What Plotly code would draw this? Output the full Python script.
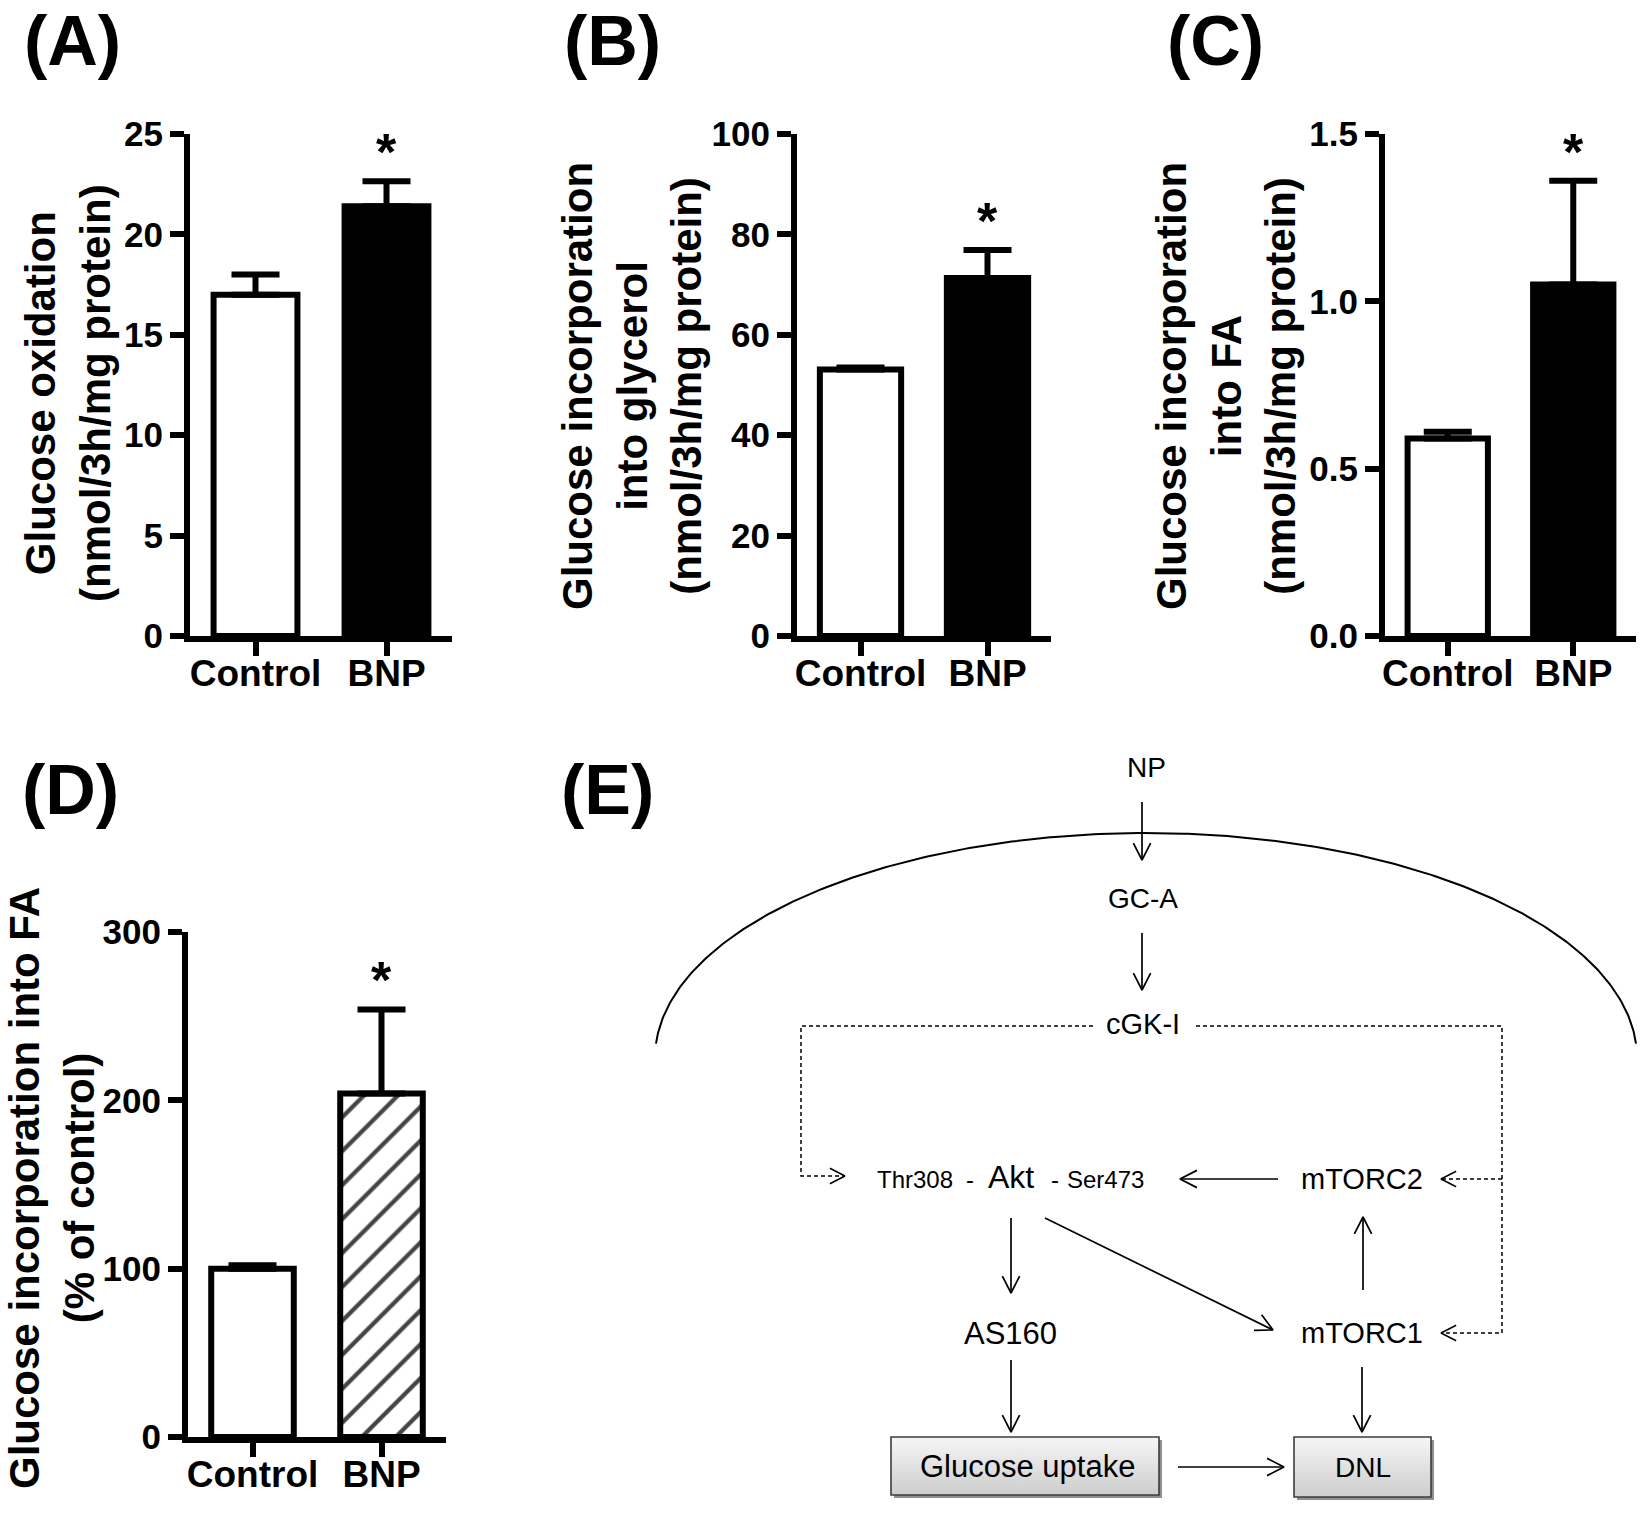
import numpy as np
import plotly.graph_objects as go

W, H = 1650, 1513
ARIAL = "Liberation Sans, Arial, sans-serif"
NARROW = "Liberation Sans Narrow, Arial Narrow, Liberation Sans, Arial, sans-serif"

# ---------------- data ----------------
categories = ["Control", "BNP"]

a_values = [17.0, 21.4]
a_errors = [1.0, 1.25]
a_ticks = [0, 5, 10, 15, 20, 25]

b_values = [53.1, 71.3]
b_errors = [0.4, 5.6]
b_ticks = [0, 20, 40, 60, 80, 100]

c_values = [0.59, 1.05]
c_errors = [0.02, 0.31]
c_ticks = [0.0, 0.5, 1.0, 1.5]

d_values = [100, 204]
d_errors = [2, 50]
d_ticks = [0, 100, 200, 300]

a_title = "Glucose oxidation<br>(nmol/3h/mg protein)"
b_title = "Glucose incorporation<br>into glycerol<br>(nmol/3h/mg protein)"
c_title = "Glucose incorporation<br>into FA<br>(nmol/3h/mg protein)"
d_title = "Glucose incorporation into FA<br>(% of control)"

# ---------------- layout of panels (pixel frame) ----------------
panels = [
    dict(label="(A)", lab_xy=(72, 41), values=a_values, errors=a_errors, ticks=a_ticks,
         fmt="", title=a_title, title_xy=(68, 393),
         xdom=(190, 452), ydom=(134, 636), hatch=False),
    dict(label="(B)", lab_xy=(612, 41), values=b_values, errors=b_errors, ticks=b_ticks,
         fmt="", title=b_title, title_xy=(632, 386),
         xdom=(797, 1051), ydom=(134, 636), hatch=False),
    dict(label="(C)", lab_xy=(1215, 41), values=c_values, errors=c_errors, ticks=c_ticks,
         fmt=".1f", title=c_title, title_xy=(1226, 386),
         xdom=(1385, 1636), ydom=(134, 636), hatch=False),
    dict(label="(D)", lab_xy=(70, 790), values=d_values, errors=d_errors, ticks=d_ticks,
         fmt="", title=d_title, title_xy=(52, 1188),
         xdom=(188, 446), ydom=(932, 1437), hatch=True),
]

fig = go.Figure()
layout = dict(width=W, height=H, margin=dict(l=0, r=0, t=0, b=0, pad=0, autoexpand=False),
              paper_bgcolor="white", plot_bgcolor="rgba(0,0,0,0)", showlegend=False)
annotations = []
shapes = []

for i, p in enumerate(panels, start=1):
    xa = "x" if i == 1 else f"x{i}"
    ya = "y" if i == 1 else f"y{i}"
    marker = dict(color=["white", "black"], line=dict(color="black", width=6))
    if p["hatch"]:
        marker = dict(color=["white", "white"], line=dict(color="black", width=6),
                      pattern=dict(shape=["", "/"], fgcolor="#000000", bgcolor="white",
                                   fgopacity=1, size=24, solidity=0.18))
    fig.add_trace(go.Bar(
        x=[0, 1], y=p["values"], xaxis=xa, yaxis=ya, width=0.64, marker=marker,
        error_y=dict(type="data", symmetric=False, array=p["errors"], arrayminus=[0, 0],
                     color="black", thickness=6, width=24),
        hoverinfo="skip", showlegend=False))
    ymax = p["ticks"][-1]
    layout[f"xaxis{'' if i == 1 else i}"] = dict(
        domain=[p["xdom"][0] / W, p["xdom"][1] / W], range=[-0.5, 1.5], anchor=ya,
        tickvals=[0, 1], ticktext=categories, showline=True, linewidth=6, linecolor="black",
        ticks="outside", ticklen=14, tickwidth=6, tickcolor="black", automargin=False,
        ticklabelstandoff=-14,
        tickfont=dict(family=ARIAL, size=37, color="black", weight="bold"),
        showgrid=False, zeroline=False, fixedrange=True)
    layout[f"yaxis{'' if i == 1 else i}"] = dict(
        domain=[1 - p["ydom"][1] / H, 1 - p["ydom"][0] / H], range=[0, ymax], anchor=xa,
        tickvals=p["ticks"], tickformat=p["fmt"], showline=True, linewidth=6,
        linecolor="black", ticks="outside", ticklen=14, tickwidth=6, tickcolor="black",
        automargin=False,
        tickfont=dict(family=ARIAL, size=35, color="black", weight="bold"),
        showgrid=False, zeroline=False, fixedrange=True)
    # significance star
    annotations.append(dict(x=1, y=p["values"][1] + p["errors"][1], xref=xa, yref=ya,
                            text="*", showarrow=False, yanchor="middle", yshift=29,
                            font=dict(family=ARIAL, size=52, color="black", weight="bold")))
    # y title
    annotations.append(dict(x=p["title_xy"][0] / W, y=1 - p["title_xy"][1] / H,
                            xref="paper", yref="paper", text=p["title"], textangle=-90,
                            showarrow=False, xanchor="center", yanchor="middle",
                            font=dict(family=ARIAL, size=42, color="black", weight="bold")))
    # panel label
    annotations.append(dict(x=p["lab_xy"][0] / W, y=1 - p["lab_xy"][1] / H,
                            xref="paper", yref="paper", text=p["label"], showarrow=False,
                            xanchor="center", yanchor="middle",
                            font=dict(family=ARIAL, size=70, color="black", weight="bold")))

annotations.append(dict(x=607 / W, y=1 - 790 / H, xref="paper", yref="paper", text="(E)",
                        showarrow=False, xanchor="center", yanchor="middle",
                        font=dict(family=ARIAL, size=70, color="black", weight="bold")))

# ---------------- pathway diagram (E) ----------------
DX, DY = "x5", "y5"
layout["xaxis5"] = dict(domain=[0, 1], range=[0, W], visible=False, fixedrange=True,
                        anchor="y5", automargin=False)
layout["yaxis5"] = dict(domain=[0, 1], range=[H, 0], visible=False, fixedrange=True,
                        anchor="x5", automargin=False)

diagram_text = [
    # text, x, y, size, family
    ("NP", 1146, 767, 28, NARROW),
    ("GC-A", 1143, 898, 28, NARROW),
    ("cGK-I", 1143, 1024, 29, NARROW),
    ("Thr308", 915, 1179, 24, ARIAL),
    ("-", 970, 1179, 24, ARIAL),
    ("Akt", 1011, 1177, 32, ARIAL),
    ("-", 1055, 1179, 24, ARIAL),
    ("Ser473", 1105, 1179, 24, ARIAL),
    ("mTORC2", 1362, 1179, 29, ARIAL),
    ("mTORC1", 1362, 1333, 29, ARIAL),
    ("AS160", 1010, 1333, 31, ARIAL),
    ("Glucose uptake", 1027, 1466, 31, ARIAL),
    ("DNL", 1363, 1467, 28, ARIAL),
]

solid_arrows = [
    (1142, 802, 1142, 860),
    (1142, 933, 1142, 990),
    (1011, 1218, 1011, 1293),
    (1045, 1218, 1273, 1330),
    (1278, 1179, 1180, 1179),
    (1363, 1290, 1363, 1217),
    (1011, 1360, 1011, 1432),
    (1362, 1367, 1362, 1432),
    (1178, 1467, 1284, 1467),
]

dashed_paths = [
    [(1093, 1026), (801, 1026), (801, 1176), (845, 1176)],
    [(1196, 1026), (1502, 1026), (1502, 1333), (1441, 1333)],
    [(1502, 1179), (1441, 1179)],
]

boxes = [
    (891, 1437, 1159, 1495),
    (1294, 1437, 1431, 1497),
]

arc_center = (1146, 1058)
arc_radii = (491, 225)
arc_half_span = 490


def head(x0, y0, x1, y1, length=19, ang=np.deg2rad(27)):
    d = np.array([x1 - x0, y1 - y0], dtype=float)
    d /= np.hypot(*d)
    pts = []
    for s in (1, -1):
        c, sn = np.cos(s * ang), np.sin(s * ang)
        r = np.array([c * d[0] - sn * d[1], sn * d[0] + c * d[1]])
        pts.append((x1 - length * r[0], y1 - length * r[1]))
    return [pts[0][0], x1, pts[1][0]], [pts[0][1], y1, pts[1][1]]


# membrane arc
th0 = np.arccos(arc_half_span / arc_radii[0])
th = np.linspace(th0, np.pi - th0, 300)
fig.add_trace(go.Scatter(x=arc_center[0] + arc_radii[0] * np.cos(th),
                         y=arc_center[1] - arc_radii[1] * np.sin(th),
                         xaxis=DX, yaxis=DY, mode="lines",
                         line=dict(color="black", width=2), hoverinfo="skip"))

for (x0, y0, x1, y1) in solid_arrows:
    fig.add_trace(go.Scatter(x=[x0, x1], y=[y0, y1], xaxis=DX, yaxis=DY, mode="lines",
                             line=dict(color="black", width=1.7), hoverinfo="skip"))
    hx, hy = head(x0, y0, x1, y1)
    fig.add_trace(go.Scatter(x=hx, y=hy, xaxis=DX, yaxis=DY, mode="lines",
                             line=dict(color="black", width=1.7), hoverinfo="skip"))

for path in dashed_paths:
    xs = [p[0] for p in path]
    ys = [p[1] for p in path]
    fig.add_trace(go.Scatter(x=xs, y=ys, xaxis=DX, yaxis=DY, mode="lines",
                             line=dict(color="black", width=1.5, dash="4px,3px"),
                             hoverinfo="skip"))
    hx, hy = head(xs[-2], ys[-2], xs[-1], ys[-1], length=17)
    fig.add_trace(go.Scatter(x=hx, y=hy, xaxis=DX, yaxis=DY, mode="lines",
                             line=dict(color="black", width=1.5), hoverinfo="skip"))

for (x0, y0, x1, y1) in boxes:
    # drop shadow (under the box fill)
    shapes.append(dict(type="rect", xref=DX, yref=DY, layer="below",
                       x0=x0 + 3, y0=y0 + 3, x1=x1 + 3, y1=y1 + 3,
                       fillcolor="#8f8f8f", line=dict(width=0)))
    # gradient fill
    fig.add_trace(go.Scatter(x=[x0, x1, x1, x0, x0], y=[y0, y0, y1, y1, y0],
                             xaxis=DX, yaxis=DY, mode="lines", fill="toself",
                             line=dict(width=0, color="rgba(0,0,0,0)"),
                             fillgradient=dict(type="vertical",
                                               colorscale=[[0, "#f6f6f6"], [1, "#cdcdcd"]],
                                               start=y0, stop=y1),
                             hoverinfo="skip"))
    # outline
    shapes.append(dict(type="rect", xref=DX, yref=DY, x0=x0, y0=y0, x1=x1, y1=y1,
                       fillcolor="rgba(0,0,0,0)", line=dict(color="#3c3c3c", width=1.6)))

for (t, x, y, s, fam) in diagram_text:
    annotations.append(dict(x=x, y=y, xref=DX, yref=DY, text=t, showarrow=False,
                            xanchor="center", yanchor="middle",
                            font=dict(family=fam, size=s, color="black")))

layout["annotations"] = annotations
layout["shapes"] = shapes
fig.update_layout(**layout)
fig.write_html("out.html", config={"displayModeBar": False},
               post_script="document.body.style.margin='0px';")
